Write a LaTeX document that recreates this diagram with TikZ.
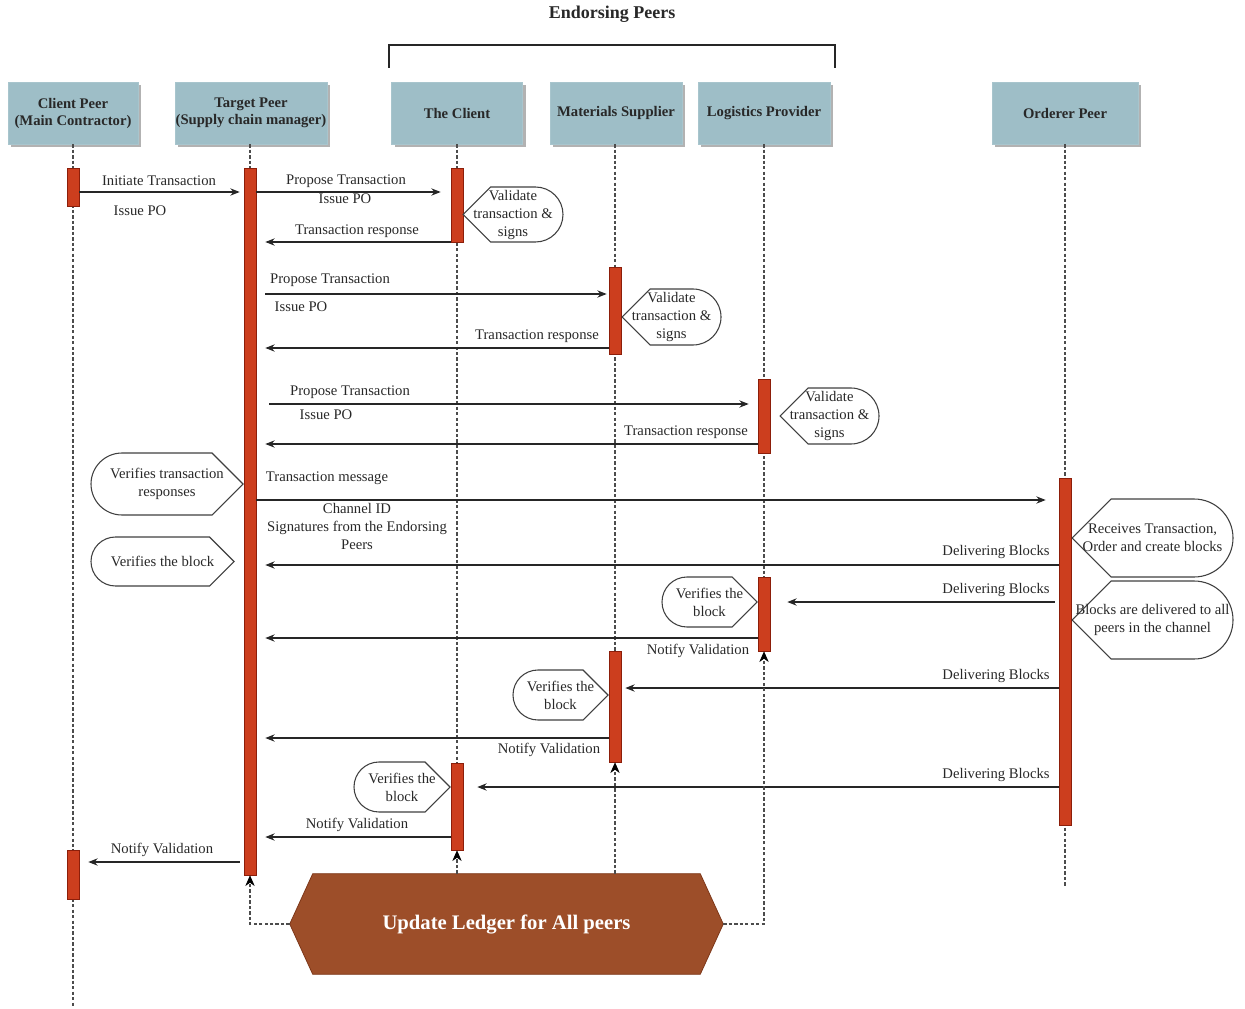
\documentclass[tikz,border=0pt]{standalone}
\usepackage{fontspec}
\setmainfont{Liberation Serif}
\usetikzlibrary{arrows.meta,calc,shadows,backgrounds}

\definecolor{headblue}{RGB}{158,190,199}
\definecolor{barred}{RGB}{204,62,30}
\definecolor{bardraw}{RGB}{140,30,10}
\definecolor{hexfill}{RGB}{157,78,41}
\definecolor{hexdraw}{RGB}{125,55,25}
\definecolor{ink}{RGB}{40,40,40}

% callout with the point on the left and a rounded right end
% #1 name, #2 tip x, #3 top y, #4 bottom y, #5 right x, #6 text
\newcommand\dispR[6]{%
  \pgfmathsetmacro\coM{(#3+#4)/2}%
  \pgfmathsetmacro\coR{(#4-#3)/2}%
  \pgfmathsetmacro\coA{#2+\coR}%
  \pgfmathsetmacro\coB{#5-\coR}%
  \pgfmathsetmacro\coK{\coB+0.5523*\coR}%
  \pgfmathsetmacro\coT{\coM-0.5523*\coR}%
  \pgfmathsetmacro\coU{\coM+0.5523*\coR}%
  \draw[callout] (#2,\coM) -- (\coA,#3) -- (\coB,#3)
    .. controls (\coK,#3) and (#5,\coT) .. (#5,\coM)
    .. controls (#5,\coU) and (\coK,#4) .. (\coB,#4) -- (\coA,#4) -- cycle;
  \node[calltext] (#1) at ({(#2+#5)/2},\coM) {#6};
}
% callout with a rounded left end and the point on the right
% #1 name, #2 tip x, #3 top y, #4 bottom y, #5 left x, #6 text
\newcommand\dispL[6]{%
  \pgfmathsetmacro\coM{(#3+#4)/2}%
  \pgfmathsetmacro\coR{(#4-#3)/2}%
  \pgfmathsetmacro\coA{#2-\coR}%
  \pgfmathsetmacro\coB{#5+\coR}%
  \pgfmathsetmacro\coK{\coB-0.5523*\coR}%
  \pgfmathsetmacro\coT{\coM-0.5523*\coR}%
  \pgfmathsetmacro\coU{\coM+0.5523*\coR}%
  \draw[callout] (#2,\coM) -- (\coA,#3) -- (\coB,#3)
    .. controls (\coK,#3) and (#5,\coT) .. (#5,\coM)
    .. controls (#5,\coU) and (\coK,#4) .. (\coB,#4) -- (\coA,#4) -- cycle;
  \node[calltext] (#1) at ({(#2+#5)/2},\coM) {#6};
}

\begin{document}
\begin{tikzpicture}[x=0.75pt,y=-0.75pt,
  head/.style={fill=headblue, draw=headblue!90!white, inner sep=0,
    minimum height=46.5pt, align=center,
    font=\bfseries\fontsize{11}{12.75}\selectfont, text=ink,
    drop shadow={shadow xshift=2.4pt, shadow yshift=-2.4pt, fill=black!30, opacity=1}},
  bar/.style={fill=barred, draw=bardraw, line width=0.5pt, minimum width=9pt, inner sep=0},
  life/.style={draw=black!70, line width=1pt, dash pattern=on 2.5pt off 1.6pt},
  upd/.style={life, -{Stealth[length=8pt,width=7pt,inset=2.5pt,color=black,fill=black,line width=0.5pt]}},
  msg/.style={draw=black!85, line width=0.9pt, -{Stealth[length=7pt,width=5.5pt]}},
  lbl/.style={font=\fontsize{11}{13.5}\selectfont, text=ink, inner sep=0, align=center},
  callout/.style={draw=black!75, fill=white, line width=0.8pt},
  calltext/.style={font=\fontsize{11}{13.5}\selectfont, text=ink, inner sep=0, align=center}]
\useasboundingbox (0,0) rectangle (1245,1009);

% group title and bracket
\node[font=\bfseries\fontsize{13.5}{16}\selectfont, text=ink] (grp) at (612,14) {Endorsing Peers};
\draw[black!85, line width=1.1pt] (389,68) -- (389,45) -- (835,45) -- (835,68);

% participants
\node[head, minimum width=97.5pt] (cp) at (73,113) {Client Peer\\(Main Contractor)};
\node[head, minimum width=114pt] (tp) at (251,113) {Target Peer\\(Supply chain manager)};
\node[head, minimum width=98pt] (tc) at (457,113) {The Client};
\node[head, minimum width=99pt] (ms) at (616,113) {Materials Supplier};
\node[head, minimum width=99pt] (lp) at (764,113) {Logistics Provider};
\node[head, minimum width=109.5pt] (op) at (1065,113) {Orderer Peer};

% lifelines
\coordinate (cpEnd) at (73,1007);
\coordinate (opEnd) at (1065,887);
\draw[life] (cp.south) -- (cpEnd);
\draw[life] (tp.south -| 250,0) -- (250,875);
\draw[life] (tc.south) -- (457,850);
\draw[life] (ms.south -| 615,0) -- (615,762);
\draw[life] (lp.south) -- (764,651);
\draw[life] (op.south) -- (opEnd);

% activation bars
\node[bar, minimum height=28.5pt]  (cpA) at (73,187) {};
\node[bar, minimum height=36.75pt] (cpB) at (73,874.5) {};
\node[bar, minimum height=530.25pt] (tpA) at (250,521.5) {};
\node[bar, minimum height=55.5pt]  (tcA) at (457,205) {};
\node[bar, minimum height=65.25pt] (tcB) at (457,806.5) {};
\node[bar, minimum height=65.25pt] (msA) at (615,310.5) {};
\node[bar, minimum height=83.25pt] (msB) at (615,706.5) {};
\node[bar, minimum height=55.5pt]  (lpA) at (764,416) {};
\node[bar, minimum height=55.5pt]  (lpB) at (764,614) {};
\node[bar, minimum height=260.25pt] (opA) at (1065,651.5) {};

% endorsement round with the client
\draw[msg] (cpA.east |- 0,192) -- ($(tpA.west |- 0,192)+(-4,0)$);
\node[lbl] (l1) at (159,181) {Initiate Transaction};
\node[lbl] (l2) at (140,211) {Issue PO};
\draw[msg] (tpA.east |- 0,192) -- ($(tcA.west |- 0,192)+(-10,0)$);
\node[lbl] (l3) at (346,181) {Propose Transaction};
\node[lbl] (l4) at (345,199) {Issue PO};
\draw[msg] (tcA.west |- 0,242) -- ($(tpA.east |- 0,242)+(9,0)$);
\node[lbl] (l5) at (357,231) {Transaction response};
\dispR{vA}{463}{187}{242}{563}{Validate\\transaction \&\\signs}

% endorsement round with the materials supplier
\draw[msg] ($(tpA.east |- 0,294)+(9,0)$) -- ($(msA.west |- 0,294)+(-2,0)$);
\node[lbl] (l6) at (330,280) {Propose Transaction};
\node[lbl] (l7) at (301,307) {Issue PO};
\draw[msg] (msA.west |- 0,348) -- ($(tpA.east |- 0,348)+(9,0)$);
\node[lbl] (l8) at (537,336) {Transaction response};
\dispR{vB}{622}{289}{345}{721}{Validate\\transaction \&\\signs}

% endorsement round with the logistics provider
\draw[msg] ($(tpA.east |- 0,404)+(13,0)$) -- ($(lpA.west |- 0,404)+(-9,0)$);
\node[lbl] (l9) at (350,392) {Propose Transaction};
\node[lbl] (l10) at (326,415) {Issue PO};
\draw[msg] (lpA.west |- 0,444) -- ($(tpA.east |- 0,444)+(9,0)$);
\node[lbl] (l11) at (686,432) {Transaction response};
\dispR{vC}{780}{388}{444}{879}{Validate\\transaction \&\\signs}

% transaction to the orderer
\dispL{vtr}{243}{453}{515}{91}{Verifies transaction\\responses}
\draw[msg] (tpA.east |- 0,500) -- ($(opA.west |- 0,500)+(-13,0)$);
\node[lbl] (l12) at (327,478) {Transaction message};
\node[lbl] (l13) at (357,526) {Channel ID\\Signatures from the Endorsing\\Peers};
\dispR{rcv}{1072}{499}{577}{1233}{Receives Transaction,\\Order and create blocks}
\dispR{blk}{1072}{581}{659}{1233}{Blocks are delivered to all\\peers in the channel}

% block delivery
\draw[msg] (opA.west |- 0,565) -- ($(tpA.east |- 0,565)+(9,0)$);
\node[lbl] (l14) at (996,552) {Delivering Blocks};
\dispL{vbk1}{234}{537}{586}{91}{Verifies the block}

\draw[msg] ($(opA.west |- 0,602)+(-4,0)$) -- ($(lpB.east |- 0,602)+(17,0)$);
\node[lbl] (l15) at (996,590) {Delivering Blocks};
\dispL{vbk2}{757}{577}{627}{662}{Verifies the\\block}
\draw[msg] (lpB.west |- 0,638) -- ($(tpA.east |- 0,638)+(9,0)$);
\node[lbl] (l16) at (698,651) {Notify Validation};

\draw[msg] (opA.west |- 0,688) -- ($(msB.east |- 0,688)+(4,0)$);
\node[lbl] (l17) at (996,676) {Delivering Blocks};
\dispL{vbk3}{608}{670}{720}{513}{Verifies the\\block}
\draw[msg] (msB.west |- 0,738) -- ($(tpA.east |- 0,738)+(9,0)$);
\node[lbl] (l18) at (549,750) {Notify Validation};

\draw[msg] (opA.west |- 0,787) -- ($(tcB.east |- 0,787)+(14,0)$);
\node[lbl] (l19) at (996,775) {Delivering Blocks};
\dispL{vbk4}{450}{762}{812}{354}{Verifies the\\block}
\draw[msg] (tcB.west |- 0,837) -- ($(tpA.east |- 0,837)+(9,0)$);
\node[lbl] (l20) at (357,825) {Notify Validation};

\draw[msg] ($(tpA.west |- 0,862)+(-4,0)$) -- ($(cpB.east |- 0,862)+(9,0)$);
\node[lbl] (l21) at (162,850) {Notify Validation};

% ledger update
\node[minimum width=324.75pt, minimum height=75pt, inner sep=0,
  font=\bfseries\fontsize{15.5}{18}\selectfont, text=white] (upd) at (506.5,924) {Update Ledger for All peers};
\begin{scope}[on background layer]
\fill[hexfill, draw=hexdraw, line width=0.6pt] (upd.west) -- ($(upd.north west)+(23,0)$) -- ($(upd.north east)+(-23,0)$)
  -- (upd.east) -- ($(upd.south east)+(-23,0)$) -- ($(upd.south west)+(23,0)$) -- cycle;
\end{scope}
\draw[upd] (upd.west) -| (tpA.south);
\draw[upd] (upd.north -| tcB.south) -- (tcB.south);
\draw[upd] (upd.north -| msB.south) -- (msB.south);
\draw[upd] (upd.east) -| (lpB.south);
\end{tikzpicture}
\end{document}
